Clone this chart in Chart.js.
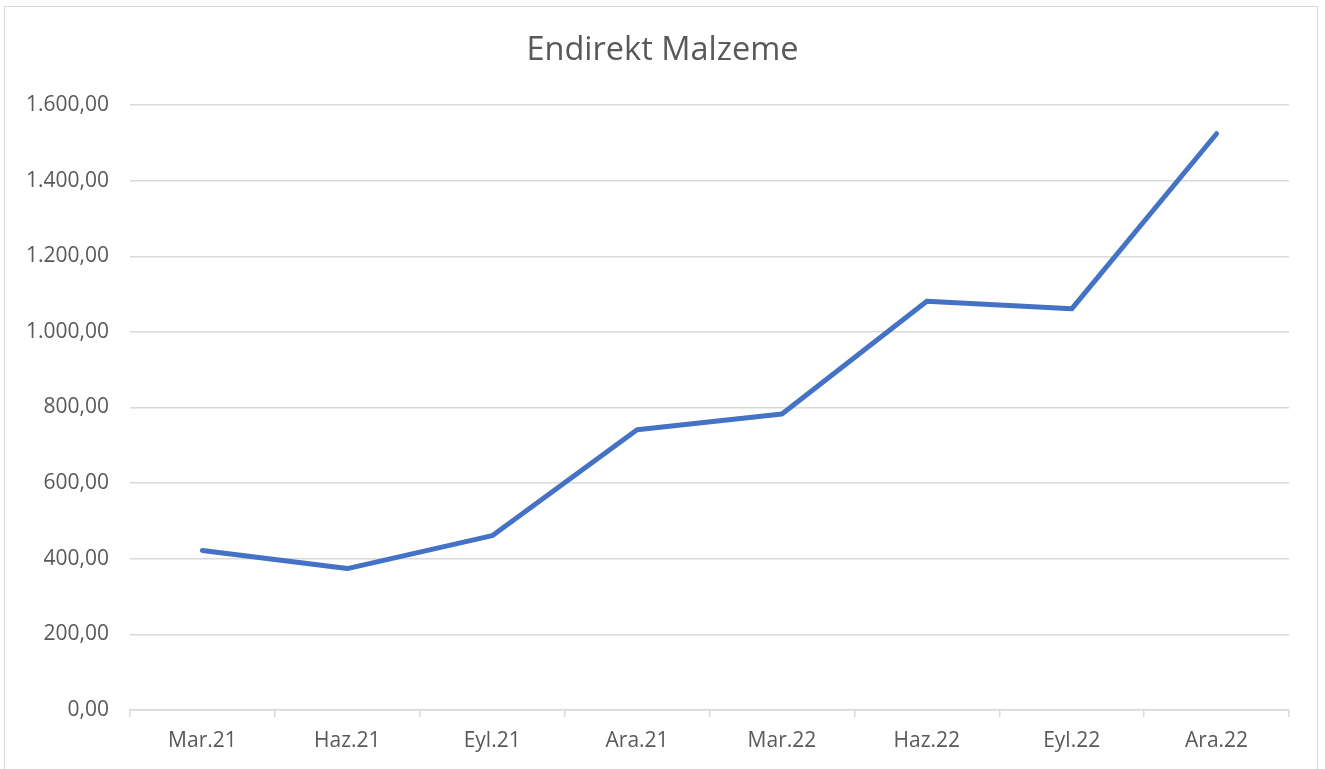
<!DOCTYPE html>
<html>
<head>
<meta charset="utf-8">
<script src="https://cdn.jsdelivr.net/npm/chart.js@4"></script>
<style>
  html, body { margin: 0; padding: 0; background: #fff; }
  #wrap { position: relative; width: 1325px; height: 769px; overflow: hidden; }
  #frame { position: absolute; left: 4px; top: 6px; width: 1312px; height: 800px; border: 1.5px solid #d9d9d9; }
  #chart { position: absolute; left: 0; top: 0; }
</style>
</head>
<body>
<div id="wrap">
  <div id="frame"></div>
  <canvas id="chart" width="1325" height="769"></canvas>
</div>
<script>
const categories = ["Mar.21", "Haz.21", "Eyl.21", "Ara.21", "Mar.22", "Haz.22", "Eyl.22", "Ara.22"];
const values = [422, 374, 461, 741, 783, 1081, 1061, 1524];
const yTicks = [0, 200, 400, 600, 800, 1000, 1200, 1400, 1600];

const textColor = "#595959";
const gridColor = "#d9d9d9";

// Turkish style number: 1.600,00
const formatTr = (v) => {
  const [intPart, dec] = Number(v).toFixed(2).split(".");
  return intPart.replace(/\B(?=(\d{3})+(?!\d))/g, ".") + "," + dec;
};

const ctx = document.getElementById("chart");
const chart = new Chart(ctx, {
  type: "line",
  data: {
    labels: categories,
    datasets: [
      {
        data: values,
        yAxisID: "y",
        borderColor: "#4472C4",
        backgroundColor: "#4472C4",
        borderWidth: 5,
        pointRadius: 0,
        tension: 0,
        borderCapStyle: "round",
        borderJoinStyle: "round",
      },
    ],
  },
  options: {
    responsive: false,
    animation: false,
    layout: {
      padding: 0,
    },
    plugins: {
      legend: { display: false },
      tooltip: { enabled: false },
      title: {
        display: true,
        text: "Endirekt Malzeme",
        color: textColor,
        font: { family: "'Open Sans'", size: 32.5, weight: "normal", lineHeight: 1.2 },
        padding: { top: 31, bottom: 35 },
      },
    },
    scales: {
      x: {
        offset: true,
        afterFit: (scale) => {
          scale.height = 59;
        },
        grid: {
          offset: true,
          drawOnChartArea: false,
          drawTicks: true,
          tickLength: 7,
          color: gridColor,
          lineWidth: 1.5,
        },
        border: { display: true, color: gridColor, width: 1.5 },
        ticks: {
          color: textColor,
          font: { family: "'Open Sans'", size: 21 },
          padding: 11,
          maxRotation: 0,
        },
      },
      y: {
        min: 0,
        max: 1600,
        afterFit: (scale) => {
          scale.width = 130;
        },
        afterBuildTicks: (scale) => {
          scale.ticks = yTicks.map((v) => ({ value: v }));
        },
        grid: {
          color: gridColor,
          lineWidth: 1.5,
          drawTicks: false,
        },
        border: { display: false },
        ticks: {
          color: textColor,
          font: { family: "'Open Sans'", size: 21 },
          padding: 21,
          callback: (v) => formatTr(v),
        },
      },
      // empty right margin so the title centres on the whole frame
      yRight: {
        position: "right",
        min: 0,
        max: 1600,
        afterFit: (scale) => {
          scale.width = 36;
        },
        grid: { display: false },
        border: { display: false },
        ticks: { display: false },
      },
    },
  },
});
</script>
</body>
</html>
